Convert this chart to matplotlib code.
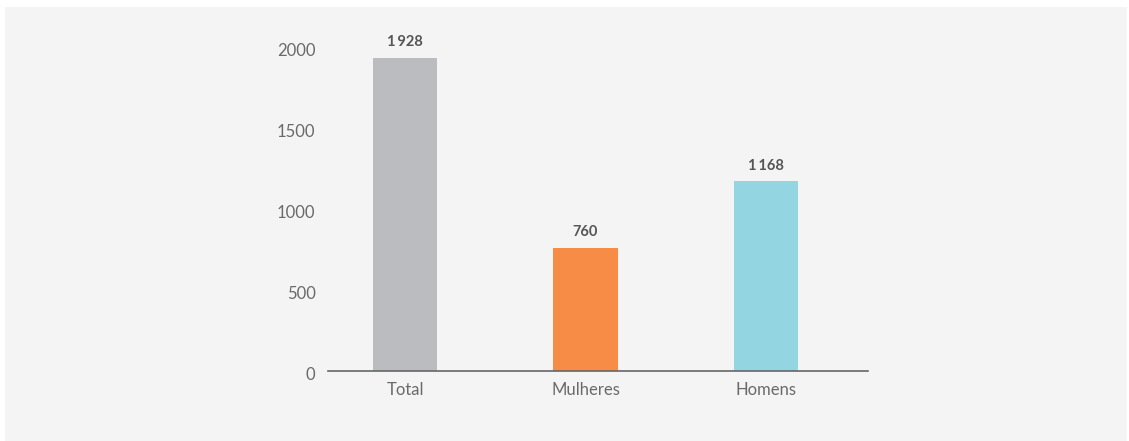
import matplotlib
matplotlib.use("Agg")
import matplotlib.pyplot as plt
from matplotlib.patches import Rectangle
from matplotlib.transforms import ScaledTranslation

categories = ["Total", "Mulheres", "Homens"]
values = [1928, 760, 1168]
value_labels = ["1\u2009928", "760", "1\u2009168"]
bar_colors = ["#BBBCC0", "#F68C45", "#93D6E2"]
y_ticks = [0, 500, 1000, 1500, 2000]

plt.rcParams["font.family"] = ["Lato", "DejaVu Sans"]

W, H = 1129, 441
fig = plt.figure(figsize=(W / 100, H / 100), dpi=100)
fig.patch.set_facecolor("white")

# light grey panel behind the chart
fig.patches.append(Rectangle((5 / W, 0), 1122 / W, 434 / H,
                             transform=fig.transFigure, facecolor="#F4F4F4",
                             edgecolor="none", zorder=-10))

ax = fig.add_axes([328 / W, (H - 371) / H, 540 / W, 325 / H])
ax.set_facecolor("none")
ax.set_zorder(1)

x = list(range(len(categories)))
ax.bar(x, values, width=0.355, color=bar_colors, zorder=2)

for xi, v, lab in zip(x, values, value_labels):
    ax.annotate(lab, (xi, v), xytext=(0, 6), textcoords="offset points",
                ha="center", va="bottom", fontsize=10.5, fontweight="bold",
                color="#555555")

ax.set_xlim(-0.4266, 2.565)
ax.set_ylim(0, 2000)
ax.set_xticks(x)
ax.set_xticklabels(categories)
ax.set_yticks(y_ticks)
ax.set_yticklabels([str(t) for t in y_ticks])

for s in ["top", "right", "left"]:
    ax.spines[s].set_visible(False)
ax.spines["bottom"].set_color("#666666")
ax.spines["bottom"].set_linewidth(1.2)
ax.spines["bottom"].set_zorder(3)

ax.tick_params(axis="both", length=0, labelsize=12, labelcolor="#6A6A6A")
ax.tick_params(axis="x", pad=8)
ax.tick_params(axis="y", pad=9)

# nudge the y tick labels slightly below their gridline positions
shift = ScaledTranslation(0, -3 / 100, fig.dpi_scale_trans)
for tick in ax.yaxis.get_major_ticks():
    tick.label1.set_transform(tick.label1.get_transform() + shift)

fig.savefig("out.png", dpi=100, facecolor=fig.get_facecolor())
